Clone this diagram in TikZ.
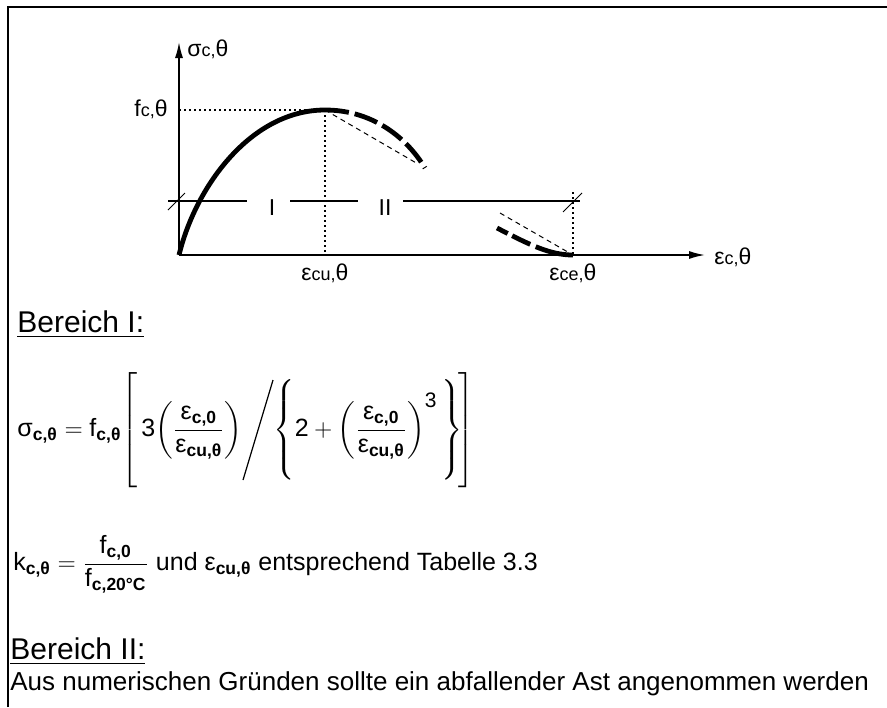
\documentclass[tikz,border=0pt]{standalone}
\usepackage{fontspec}
\setmainfont{Liberation Sans}
\usepackage{amsmath}
\usetikzlibrary{arrows.meta,positioning}
\newcommand{\idx}[1]{{\fontsize{9}{9}\selectfont #1}}
\newcommand{\slashbar}{\mathord{\tikz[baseline=0pt]\draw[line width=0.6pt] (0pt,-22pt) -- (15pt,28pt);}}
\tikzset{
  framerule/.style={line width=1pt},
  axisline/.style={line width=0.8pt, -{Latex[length=8pt,width=4pt]}},
  mainbranch/.style={line width=2.4pt},
  fallbranch/.style={line width=2.4pt, dash pattern=on 12pt off 3pt},
  tailbranch/.style={line width=2.4pt, dash pattern=on 6pt off 2.5pt on 10pt off 3pt on 20pt off 2pt},
  helpline/.style={line width=0.5pt, dash pattern=on 2.5pt off 2pt},
  guideline/.style={line width=0.7pt, dash pattern=on 1pt off 1.5pt},
  rangeline/.style={line width=0.7pt},
  tickline/.style={line width=0.5pt},
  axislabel/.style={font=\fontsize{11.5}{13}\selectfont, inner sep=1pt},
  rangelabel/.style={font=\fontsize{11.5}{13}\selectfont, inner sep=0pt, anchor=base},
  headline/.style={font=\fontsize{15}{18}\selectfont, anchor=base west, inner sep=0pt},
  formula/.style={font=\fontsize{12.5}{15}\selectfont, anchor=base west, inner sep=0pt},
  bodytext/.style={font=\fontsize{13}{15}\selectfont, anchor=base west, inner sep=0pt}
}

\begin{document}
\begin{tikzpicture}[x=0.5pt, y=-0.5pt]
  \useasboundingbox (0,0) rectangle (887,707);

  % --- frame ---
  \coordinate (frameBL) at (8,707);
  \coordinate (frameTL) at (8,7);
  \coordinate (frameTR) at (887,7);
  \draw[framerule] (frameBL) -- (frameTL) -- (frameTR);

  % --- axes ---
  \coordinate (O) at (179,255);
  \coordinate (ytip) at (179,42);
  \coordinate (xtip) at (705,255);
  \draw[axisline] (O) -- (ytip);
  \draw[axisline] (O) -- (xtip);

  \node[axislabel, anchor=west] (sigmalab) at (185,49) {σ\idx{c,}θ};
  \node[axislabel, anchor=west] (epslab) at (712,257) {ε\idx{c,}θ};

  % --- key points ---
  \coordinate (peak) at (325,110);
  \coordinate (fcmark) at (179,110);
  \coordinate (cu) at (325,255);
  \coordinate (ce) at (573,255);
  \coordinate (cetop) at (573,192);
  \coordinate (fallend) at (425,168);
  \coordinate (secend) at (418,164);
  \coordinate (tailstart) at (497,228);
  \coordinate (tailsec) at (500,213);

  \node[axislabel, anchor=east] (fclab) at (170,109) {f\idx{c,}θ};
  \node[axislabel, anchor=north] (culab) at (325,261) {ε\idx{cu,}θ};
  \node[axislabel, anchor=north] (celab) at (573,261) {ε\idx{ce,}θ};

  % --- guides ---
  \draw[guideline] (fcmark) -- (peak);
  \draw[guideline] (peak) -- (cu);
  \draw[guideline] (cetop) -- (ce);

  % --- curve ---
  \draw[mainbranch] (O) .. controls (196,185) and (252,110) .. (peak);
  \draw[fallbranch] (peak) .. controls (370,110) and (405,135) .. (fallend);
  \draw[helpline] (peak) -- (secend);
  \draw[tailbranch] (tailstart) .. controls (530,245) and (550,255) .. (ce);
  \draw[helpline] (tailsec) -- (ce);

  % --- ranges I / II ---
  \coordinate (r0) at (168,201);
  \coordinate (r1) at (247,201);
  \coordinate (r2) at (290,201);
  \coordinate (r3) at (358,201);
  \coordinate (r4) at (403,201);
  \coordinate (r5) at (580,201);
  \draw[rangeline] (r0) -- (r1);
  \draw[rangeline] (r2) -- (r3);
  \draw[rangeline] (r4) -- (r5);
  \node[rangelabel] (rangeI) at (272,215) {I};
  \node[rangelabel] (rangeII) at (385,215) {II};

  \coordinate (tickLa) at (168,210);
  \coordinate (tickLb) at (185,193);
  \coordinate (tickRa) at (563,212);
  \coordinate (tickRb) at (582,193);
  \draw[tickline] (tickLa) -- (tickLb);
  \draw[tickline] (tickRa) -- (tickRb);

  % --- text ---
  \node[headline] (bereichI) at (17,332) {\underline{Bereich I:}};

  \node[formula] (sigmaeq) at (17,436)
    {$\text{σ}_{\textbf{c,θ}} = \text{f}_{\textbf{c,θ}}\!\left[\vrule height 27pt depth 26pt width 0pt\,\text{3}\!\left(\dfrac{\text{ε}_{\textbf{c,0}}}{\text{ε}_{\textbf{cu,θ}}}\right)\!\slashbar\!\left\{\vrule height 24pt depth 23pt width 0pt\text{2} + \left(\dfrac{\text{ε}_{\textbf{c,0}}}{\text{ε}_{\textbf{cu,θ}}}\right)^{\text{\fontsize{10.5}{12}\selectfont 3}}\,\right\}\!\right]$};

  \node[bodytext, font=\fontsize{12.5}{14}\selectfont] (kdef) at (13,570)
    {$\text{k}_{\textbf{c,θ}} = \dfrac{\text{f}_{\textbf{c,0}}}{\text{f}_{\textbf{c,20°C}}}$ und ε\textsubscript{\textbf{cu,θ}} entsprechend Tabelle 3.3};

  \node[headline] (bereichII) at (10,659) {\underline{Bereich II:}};
  \node[bodytext] (remark) at (10,690) {Aus numerischen Gründen sollte ein abfallender Ast angenommen werden};

\end{tikzpicture}
\end{document}
